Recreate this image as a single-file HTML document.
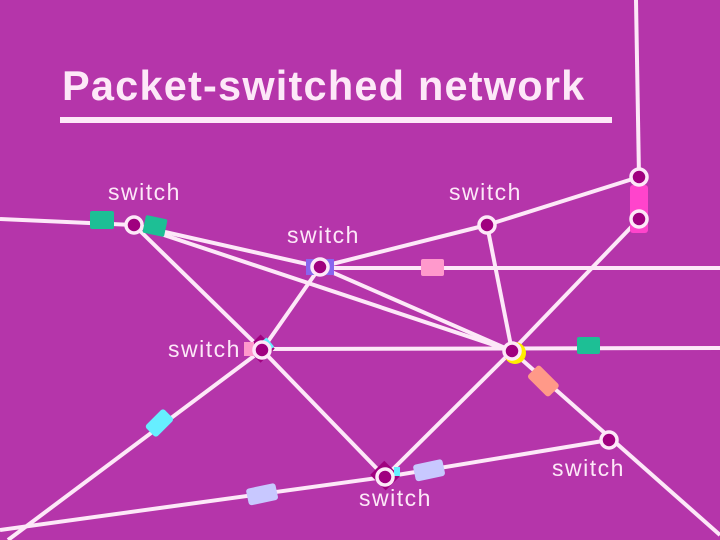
<!DOCTYPE html>
<html><head><meta charset="utf-8"><style>html,body{margin:0;padding:0;background:#b535aa}svg{display:block}</style></head><body>
<svg width="720" height="540" viewBox="0 0 720 540" xmlns="http://www.w3.org/2000/svg">
<rect width="720" height="540" fill="#b535aa"/>
<text x="62" y="100" font-family="Liberation Sans, sans-serif" font-weight="bold" font-size="41.5" letter-spacing="1.2" fill="#fde8f8">Packet-switched network</text>
<rect x="60" y="117" width="552" height="6" fill="#fde8f8"/>
<g stroke="#fde8f8" stroke-width="4" fill="none">
<line x1="0" y1="219" x2="134" y2="225"/>
<line x1="134" y1="225" x2="320" y2="267"/>
<line x1="134" y1="225" x2="512" y2="351"/>
<line x1="320" y1="267" x2="512" y2="351"/>
<line x1="320" y1="267" x2="487" y2="225"/>
<line x1="320" y1="268" x2="720" y2="268"/>
<line x1="134" y1="225" x2="262" y2="350"/>
<line x1="262" y1="350" x2="320" y2="267"/>
<line x1="262" y1="349" x2="720" y2="348"/>
<line x1="262" y1="350" x2="385" y2="477"/>
<line x1="262" y1="350" x2="8" y2="540"/>
<line x1="512" y1="351" x2="487" y2="225"/>
<line x1="512" y1="351" x2="639" y2="219"/>
<line x1="512" y1="351" x2="385" y2="477"/>
<line x1="512" y1="351" x2="720" y2="535"/>
<line x1="385" y1="477" x2="609" y2="440"/>
<line x1="385" y1="477" x2="0" y2="530"/>
<line x1="487" y1="225" x2="639" y2="177"/>
<line x1="639" y1="177" x2="636" y2="0"/>
</g>
<rect x="630" y="185" width="18" height="48" rx="3" fill="#ff44cc"/>
<rect x="90" y="211" width="24" height="18" rx="2" fill="#1dbf95"/>
<rect x="144" y="217" width="22" height="18" rx="2" fill="#1dbf95" transform="rotate(12 155 226)"/>
<rect x="421" y="259" width="23" height="17" rx="2" fill="#ff99cc"/>
<rect x="577" y="337" width="23" height="17" rx="2" fill="#1dbf95"/>
<rect x="306" y="259" width="28" height="16" fill="#8866ee"/>
<rect x="146" y="416" width="26" height="16" rx="3" fill="#66eeff" transform="rotate(-45 158 423)"/>
<rect x="247" y="486" width="30" height="17" rx="3" fill="#c8c8ff" transform="rotate(-12 261 494)"/>
<rect x="414" y="462" width="30" height="17" rx="3" fill="#c8c8ff" transform="rotate(-12 428 470)"/>
<rect x="529" y="372" width="30" height="17" rx="3" fill="#ff9988" transform="rotate(45 543 380)"/>
<rect x="250" y="340" width="20" height="20" fill="#a0007f" transform="rotate(45 262 350)"/>
<rect x="244" y="342" width="10" height="14" fill="#ff99cc"/>
<rect x="265" y="338" width="6" height="12" fill="#66eeff" transform="rotate(-40 268 344)"/>
<circle cx="515" cy="353" r="11" fill="#ffee00"/>
<rect x="373" y="466" width="22" height="20" fill="#a0007f" transform="rotate(45 385 477)"/>
<rect x="394" y="467" width="6" height="9" fill="#66eeff"/>
<g fill="#a0007f" stroke="#fde8f8" stroke-width="3.5">
<circle cx="134" cy="225" r="8"/>
<circle cx="487" cy="225" r="8"/>
<circle cx="320" cy="267" r="8"/>
<circle cx="262" cy="350" r="8"/>
<circle cx="512" cy="351" r="8"/>
<circle cx="385" cy="477" r="8"/>
<circle cx="609" cy="440" r="8"/>
<circle cx="639" cy="177" r="8"/>
<circle cx="639" cy="219" r="8"/>
</g>
<g font-family="Liberation Sans, sans-serif" font-size="23" letter-spacing="1.5" fill="#fde8f8">
<text x="108" y="200">switch</text>
<text x="449" y="200">switch</text>
<text x="287" y="243">switch</text>
<text x="168" y="357">switch</text>
<text x="552" y="476">switch</text>
<text x="359" y="506">switch</text>
</g>
</svg>
</body></html>
